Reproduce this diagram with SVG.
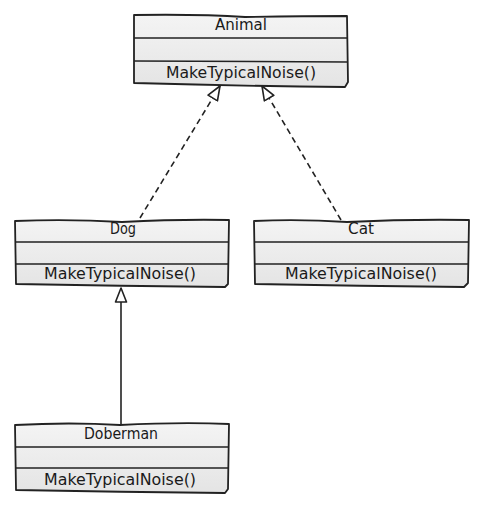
<svg xmlns="http://www.w3.org/2000/svg" width="493" height="516" viewBox="0 0 493 516">
<defs>
<linearGradient id="g" x1="0" y1="0" x2="0" y2="1">
<stop offset="0" stop-color="#f4f4f4"/>
<stop offset="1" stop-color="#e4e4e4"/>
</linearGradient>
<marker id="tri" viewBox="0 0 16 14" refX="15" refY="7" markerWidth="16" markerHeight="14" markerUnits="userSpaceOnUse" orient="auto">
<path d="M1,1.5 L15,7 L1,12.5 Z" fill="#fff" stroke="#222" stroke-width="1.6" stroke-linejoin="round"/>
</marker>
<style>
.box{fill:url(#g);stroke:#222;stroke-width:1.8;stroke-linejoin:round}
.div{fill:none;stroke:#222;stroke-width:1.5}
.t{font-family:"Comic Sans MS","DejaVu Sans",sans-serif;font-size:15px;fill:#1a1a1a;text-anchor:middle}
.c{fill:none;stroke:#222;stroke-width:1.6}
</style>
</defs>
<rect width="493" height="516" fill="#fff"/>
<g id="connectors">
<path class="c" d="M140,218 L220,86" stroke-dasharray="6,4" marker-end="url(#tri)"/>
<path class="c" d="M341,220 L262,86" stroke-dasharray="6,4" marker-end="url(#tri)"/>
<path class="c" d="M121,424 L121,288" marker-end="url(#tri)"/>
</g>
<g id="Animal">
<path class="box" d="M134,15 Q200,14 245,17 Q300,16 347,16 L348,82 L345,87 Q240,86 134,83 Z"/>
<path class="div" d="M134,38 L347,38 M134,61 L347,62"/>
<text class="t" x="241" y="30" textLength="52" lengthAdjust="spacingAndGlyphs">Animal</text>
<text class="t" x="241" y="78" textLength="150" lengthAdjust="spacingAndGlyphs">MakeTypicalNoise()</text>
</g>
<g id="Dog">
<path class="box" d="M15,221 Q70,219 122,222 Q180,219 229,220 L228,284 L225,287 Q120,286 16,284 Z"/>
<path class="div" d="M15,242 L229,242 M15,264 L229,264"/>
<text class="t" x="123" y="234" textLength="26" lengthAdjust="spacingAndGlyphs">Dog</text>
<text class="t" x="120" y="279" textLength="152" lengthAdjust="spacingAndGlyphs">MakeTypicalNoise()</text>
</g>
<g id="Cat">
<path class="box" d="M254,221 Q300,219 347,222 Q410,219 469,220 L468,283 L464,287 Q360,286 255,284 Z"/>
<path class="div" d="M254,242 L469,242 M254,264 L469,264"/>
<text class="t" x="361" y="234" textLength="26" lengthAdjust="spacingAndGlyphs">Cat</text>
<text class="t" x="361" y="279" textLength="152" lengthAdjust="spacingAndGlyphs">MakeTypicalNoise()</text>
</g>
<g id="Doberman">
<path class="box" d="M15,425 Q70,422 120,425 Q180,422 229,424 L228,489 L225,493 Q120,492 16,490 Z"/>
<path class="div" d="M15,447 L229,447 M15,468 L229,468"/>
<text class="t" x="121" y="439" textLength="74" lengthAdjust="spacingAndGlyphs">Doberman</text>
<text class="t" x="120" y="485" textLength="152" lengthAdjust="spacingAndGlyphs">MakeTypicalNoise()</text>
</g>
</svg>
